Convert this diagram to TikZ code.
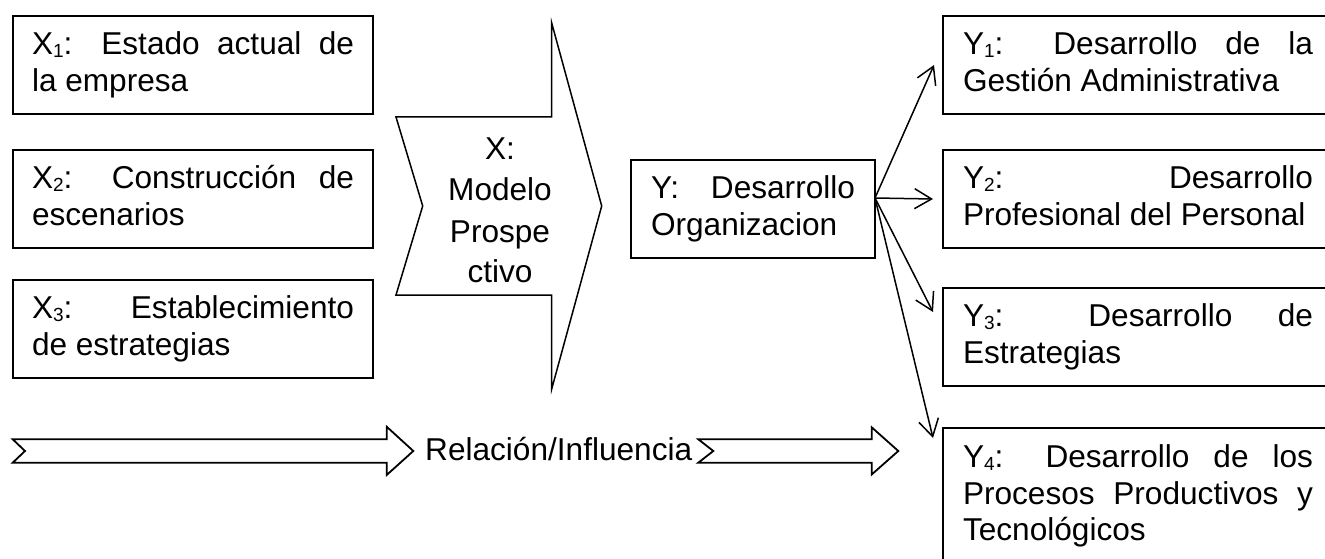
\documentclass[tikz,border=0pt]{standalone}
\usepackage{fontspec}
\setmainfont{Liberation Sans}
\usetikzlibrary{arrows.meta,calc}
\newcommand{\myfs}{\fontsize{31.6}{36.8}\selectfont}
\newcommand{\chfs}{\fontsize{31.6}{41}\selectfont}
\newcommand{\bstrut}{\rule{0pt}{25pt}}
\newcommand{\estrut}{\rule[-9pt]{0pt}{9pt}}
\newcommand{\sbs}[1]{\raisebox{-3pt}{\fontsize{19}{19}\selectfont #1}}
\begin{document}
\begin{tikzpicture}[x=1pt,y=-1pt,
  box/.style={draw, line width=1.8pt, anchor=north west, inner ysep=0pt, outer sep=0pt,
    align=justify, font=\myfs,
    execute at begin node={\noindent\bstrut}, execute at end node={\estrut}},
  xbox/.style={box, text width=322pt, inner xsep=19pt, minimum height=98pt},
  ybox/.style={box, text width=350pt, inner xsep=20pt, minimum height=98pt},
  conn/.style={line width=1.5pt, -{Straight Barb[length=17pt,width=20pt,line width=1.5pt]}},
  blockarrow/.style={draw, line width=1.8pt, fill=white},
  chevron/.style={draw, line width=1.5pt}]
\path[use as bounding box, clip] (0,0) rectangle (1325,559);

% left boxes
\node[xbox] (x1) at (13,16) {X\sbs{1}: Estado actual de\linebreak la empresa};
\node[xbox] (x2) at (13,150) {X\sbs{2}: Construcción de\linebreak escenarios};
\node[xbox] (x3) at (13,280) {X\sbs{3}: Establecimiento\linebreak de estrategias};

% chevron
\draw[chevron] (551.7,23) -- (601.7,206) -- (551.7,389) -- (551.7,295) -- (396,295)
  -- (422.7,206) -- (396,117) -- (551.7,117) -- cycle;
\node[font=\chfs, align=center, text width=130pt, inner sep=0pt,
  execute at begin node={\bstrut}, execute at end node={\estrut}] (x) at (500,213.5)
  {X:\\Modelo\\Prospe\\ctivo};

% central box
\node[box, text width=204pt, inner xsep=20pt, minimum height=98pt] (y) at (631,160)
  {Y: Desarrollo\linebreak Organizacion};

% right boxes
\node[ybox] (y1) at (943,16) {Y\sbs{1}: Desarrollo de la\linebreak Gestión Administrativa};
\node[ybox] (y2) at (943,150) {Y\sbs{2}: Desarrollo\linebreak Profesional del Personal};
\node[ybox] (y3) at (943,288) {Y\sbs{3}: Desarrollo de\linebreak Estrategias};
\node[ybox, minimum height=136pt] (y4) at (943,428) {Y\sbs{4}: Desarrollo de los\linebreak Procesos Productivos y\linebreak Tecnológicos};

% connectors
\coordinate (o) at ($(y.east)+(0,-11)$);
\draw[conn] (o) -- ($(y1.west)+(-9,0)$);
\draw[conn] (o) -- ($(y2.west)+(-10,0)$);
\draw[conn] (o) -- ($(y3.north west)+(-10,24)$);
\draw[conn] (o) -- ($(y4.north west)+(-10,10)$);

% relation arrows
\node[font=\myfs, anchor=base west, inner sep=0pt] (rel) at (425,460) {Relación/Influencia};
\draw[blockarrow] (12.7,439.3) -- (386.7,439.3) -- (386.7,426.7) -- (413.3,451)
  -- (386.7,475) -- (386.7,462.7) -- (12.7,462.7) -- (25,451) -- cycle;
\draw[blockarrow] (698.3,439.3) -- (871.7,439.3) -- (871.7,427.3) -- (898.3,451)
  -- (871.7,474.5) -- (871.7,462.7) -- (698.3,462.7) -- (713.3,451) -- cycle;
\end{tikzpicture}
\end{document}
